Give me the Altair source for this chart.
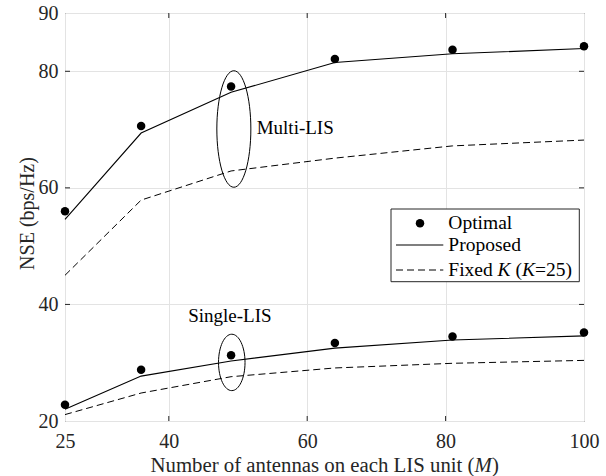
import altair as alt
import pandas as pd

# ---------------- data ----------------
M_VALUES = [25, 36, 49, 64, 81, 100]
multi_optimal = [56.0, 70.6, 77.4, 82.1, 83.7, 84.3]
multi_proposed = [54.6, 69.4, 76.4, 81.5, 83.0, 83.9]
multi_fixed = [45.0, 57.9, 62.9, 65.1, 67.2, 68.2]
single_optimal = [22.8, 28.8, 31.3, 33.4, 34.5, 35.2]
single_proposed = [22.0, 27.7, 30.3, 32.5, 33.9, 34.6]
single_fixed = [21.1, 24.8, 27.6, 29.1, 29.9, 30.4]

X_TICKS = [25, 40, 60, 80, 100]
Y_TICKS = [20, 40, 60, 80, 90]
X_INNER_TICKS = [40, 60, 80]
Y_INNER_TICKS = [40, 60, 80]

ANNOT_TEXT = ["Multi-LIS", "Single-LIS"]
ANNOT_X = [52.7, 42.8]
ANNOT_Y = [70.3, 38.1]

ELLIPSE_X = [49.4, 49.1]
ELLIPSE_Y = [70.1, 30.05]

X_TITLE = "Number of antennas on each LIS unit ("
X_TITLE_ITALIC = "M"
Y_TITLE = "NSE (bps/Hz)"
LEGEND_LABELS = ["Optimal", "Proposed"]
LEGEND_FIXED = ["Fixed", "K", "(", "K", "=25)"]

W, H = 519, 408
FONT = "Liberation Serif"
AX = "#262626"

rows = []
for scheme, opt, pro, fix in [("Multi-LIS", multi_optimal, multi_proposed, multi_fixed),
                              ("Single-LIS", single_optimal, single_proposed, single_fixed)]:
    for m, a, b, c in zip(M_VALUES, opt, pro, fix):
        rows.append({"M": m, "NSE": a, "scheme": scheme, "method": "Optimal"})
        rows.append({"M": m, "NSE": b, "scheme": scheme, "method": "Proposed"})
        rows.append({"M": m, "NSE": c, "scheme": scheme, "method": "Fixed"})
df = pd.DataFrame(rows)

xs = alt.Scale(domain=[25, 100], nice=False, zero=False)
ys = alt.Scale(domain=[20, 90], nice=False, zero=False)

x_axis = alt.Axis(values=X_TICKS, grid=True, domain=False, ticks=False, tickSize=0,
                  labelPadding=10, labelFlush=False, labelOverlap=False, title=None)
y_axis = alt.Axis(values=Y_TICKS, grid=True, domain=False, ticks=False, tickSize=0,
                  labelPadding=7, labelFlush=False, labelOverlap=False, title=Y_TITLE,
                  titleX=-32, titleY=200, titleAngle=270, titleAlign="center",
                  titleBaseline="alphabetic")

base = alt.Chart(df).encode(
    x=alt.X("M:Q", scale=xs, axis=x_axis),
    y=alt.Y("NSE:Q", scale=ys, axis=y_axis),
)

proposed = base.transform_filter(alt.datum.method == "Proposed").mark_line(
    color="black", strokeWidth=1.1).encode(detail="scheme:N")
fixed = base.transform_filter(alt.datum.method == "Fixed").mark_line(
    color="black", strokeWidth=1.0, strokeDash=[7, 4]).encode(detail="scheme:N")
optimal = base.transform_filter(alt.datum.method == "Optimal").mark_circle(
    color="black", size=72, opacity=1)

XN = alt.X("M:Q", scale=xs, axis=x_axis)
YN = alt.Y("NSE:Q", scale=ys, axis=y_axis)

# ticks pointing inward (MATLAB style)
xt = pd.DataFrame({"M": X_INNER_TICKS})
yt = pd.DataFrame({"NSE": Y_INNER_TICKS})
tick_style = dict(color=AX, strokeWidth=1)
xticks_b = alt.Chart(xt).mark_rule(**tick_style).encode(
    x=XN, y=alt.value(H), y2=alt.value(H - 5))
xticks_t = alt.Chart(xt).mark_rule(**tick_style).encode(
    x=XN, y=alt.value(0), y2=alt.value(5))
yticks_l = alt.Chart(yt).mark_rule(**tick_style).encode(
    y=YN, x=alt.value(0), x2=alt.value(5))
yticks_r = alt.Chart(yt).mark_rule(**tick_style).encode(
    y=YN, x=alt.value(W), x2=alt.value(W - 5))


def ellipse_path(a):
    k = 0.5523
    return (f"M {a} 0 C {a} {k} {k*a:.4f} 1 0 1 C {-k*a:.4f} 1 {-a} {k} {-a} 0 "
            f"C {-a} {-k} {-k*a:.4f} -1 0 -1 C {k*a:.4f} -1 {a} {-k} {a} 0 Z")


ell_df = pd.DataFrame({"M": ELLIPSE_X, "NSE": ELLIPSE_Y})
ell_multi = alt.Chart(ell_df.iloc[[0]]).mark_point(
    shape=ellipse_path(0.292), size=116.5 ** 2, filled=False, stroke="black",
    strokeWidth=1, opacity=1).encode(x=XN, y=YN)
ell_single = alt.Chart(ell_df.iloc[[1]]).mark_point(
    shape=ellipse_path(0.47), size=56.4 ** 2, filled=False, stroke="black",
    strokeWidth=1, opacity=1).encode(x=XN, y=YN)

annot = alt.Chart(pd.DataFrame({"t": ANNOT_TEXT, "M": ANNOT_X, "NSE": ANNOT_Y})).mark_text(
    font=FONT, fontSize=19, align="left", baseline="middle", color="black").encode(
    x=XN, y=YN, text="t:N")


def txt(s, x, y, size, italic=False, align="left", baseline="alphabetic", color=AX):
    return alt.Chart(pd.DataFrame({"t": [s]})).mark_text(
        font=FONT, fontSize=size, fontStyle="italic" if italic else "normal",
        align=align, baseline=baseline, color=color).encode(
        x=alt.value(x), y=alt.value(y), text="t:N")


# x-axis title with italic M
xt0 = 85.5
fs_t = 20.8
xtitle = [
    txt(X_TITLE, xt0, 458.7, fs_t),
    txt(X_TITLE_ITALIC, xt0 + 15.58 * fs_t, 458.7, fs_t, italic=True),
    txt(")", xt0 + 15.58 * fs_t + 0.833 * fs_t, 458.7, fs_t),
]

# legend
leg_box = alt.Chart(pd.DataFrame({"a": [0]})).mark_rect(
    fill="white", stroke=AX, strokeWidth=1).encode(
    x=alt.value(326), x2=alt.value(514.3), y=alt.value(196), y2=alt.value(268.7))
leg_pt = alt.Chart(pd.DataFrame({"a": [0]})).mark_circle(color="black", size=72, opacity=1).encode(
    x=alt.value(355), y=alt.value(210.3))
leg_solid = alt.Chart(pd.DataFrame({"a": [0]})).mark_rule(color="black", strokeWidth=1.1).encode(
    x=alt.value(331), x2=alt.value(378.3), y=alt.value(232))
leg_dash = alt.Chart(pd.DataFrame({"a": [0]})).mark_rule(
    color="black", strokeWidth=1.0, strokeDash=[7, 4]).encode(
    x=alt.value(331), x2=alt.value(378.3), y=alt.value(257))
fs_l = 19.5
lx = 383.3
leg_txt = [
    txt(LEGEND_LABELS[0], lx, 210.3, fs_l, baseline="middle", color="black"),
    txt(LEGEND_LABELS[1], lx, 232, fs_l, baseline="middle", color="black"),
]
# em offsets of "Fixed", "K", "(", "K", "=25)"
offs = [0, 2.528, 2.528 + 0.667 + 0.25, 2.528 + 0.667 + 0.583, 2.528 + 0.667 + 0.583 + 0.667]
for i, s in enumerate(LEGEND_FIXED):
    leg_txt.append(txt(s, lx + offs[i] * fs_l, 257, fs_l, italic=(s == "K"),
                       baseline="middle", color="black"))

chart = alt.layer(
    proposed, fixed, optimal, xticks_b, xticks_t, yticks_l, yticks_r,
    ell_multi, ell_single, annot, *xtitle,
    leg_box, leg_pt, leg_solid, leg_dash, *leg_txt,
).properties(
    width=W, height=H,
    autosize=alt.AutoSizeParams(type="none"),
    padding={"left": 65, "top": 13, "right": 22, "bottom": 55},
    background="white",
).configure_view(stroke=AX, strokeWidth=1).configure_axis(
    labelFont=FONT, labelFontSize=20, labelColor=AX, titleFont=FONT, titleFontSize=20,
    titleFontWeight="normal", titleColor=AX, gridColor="#e3e3e3", gridWidth=1
)

chart.save("out.html", embed_options={"renderer": "svg", "actions": False})
